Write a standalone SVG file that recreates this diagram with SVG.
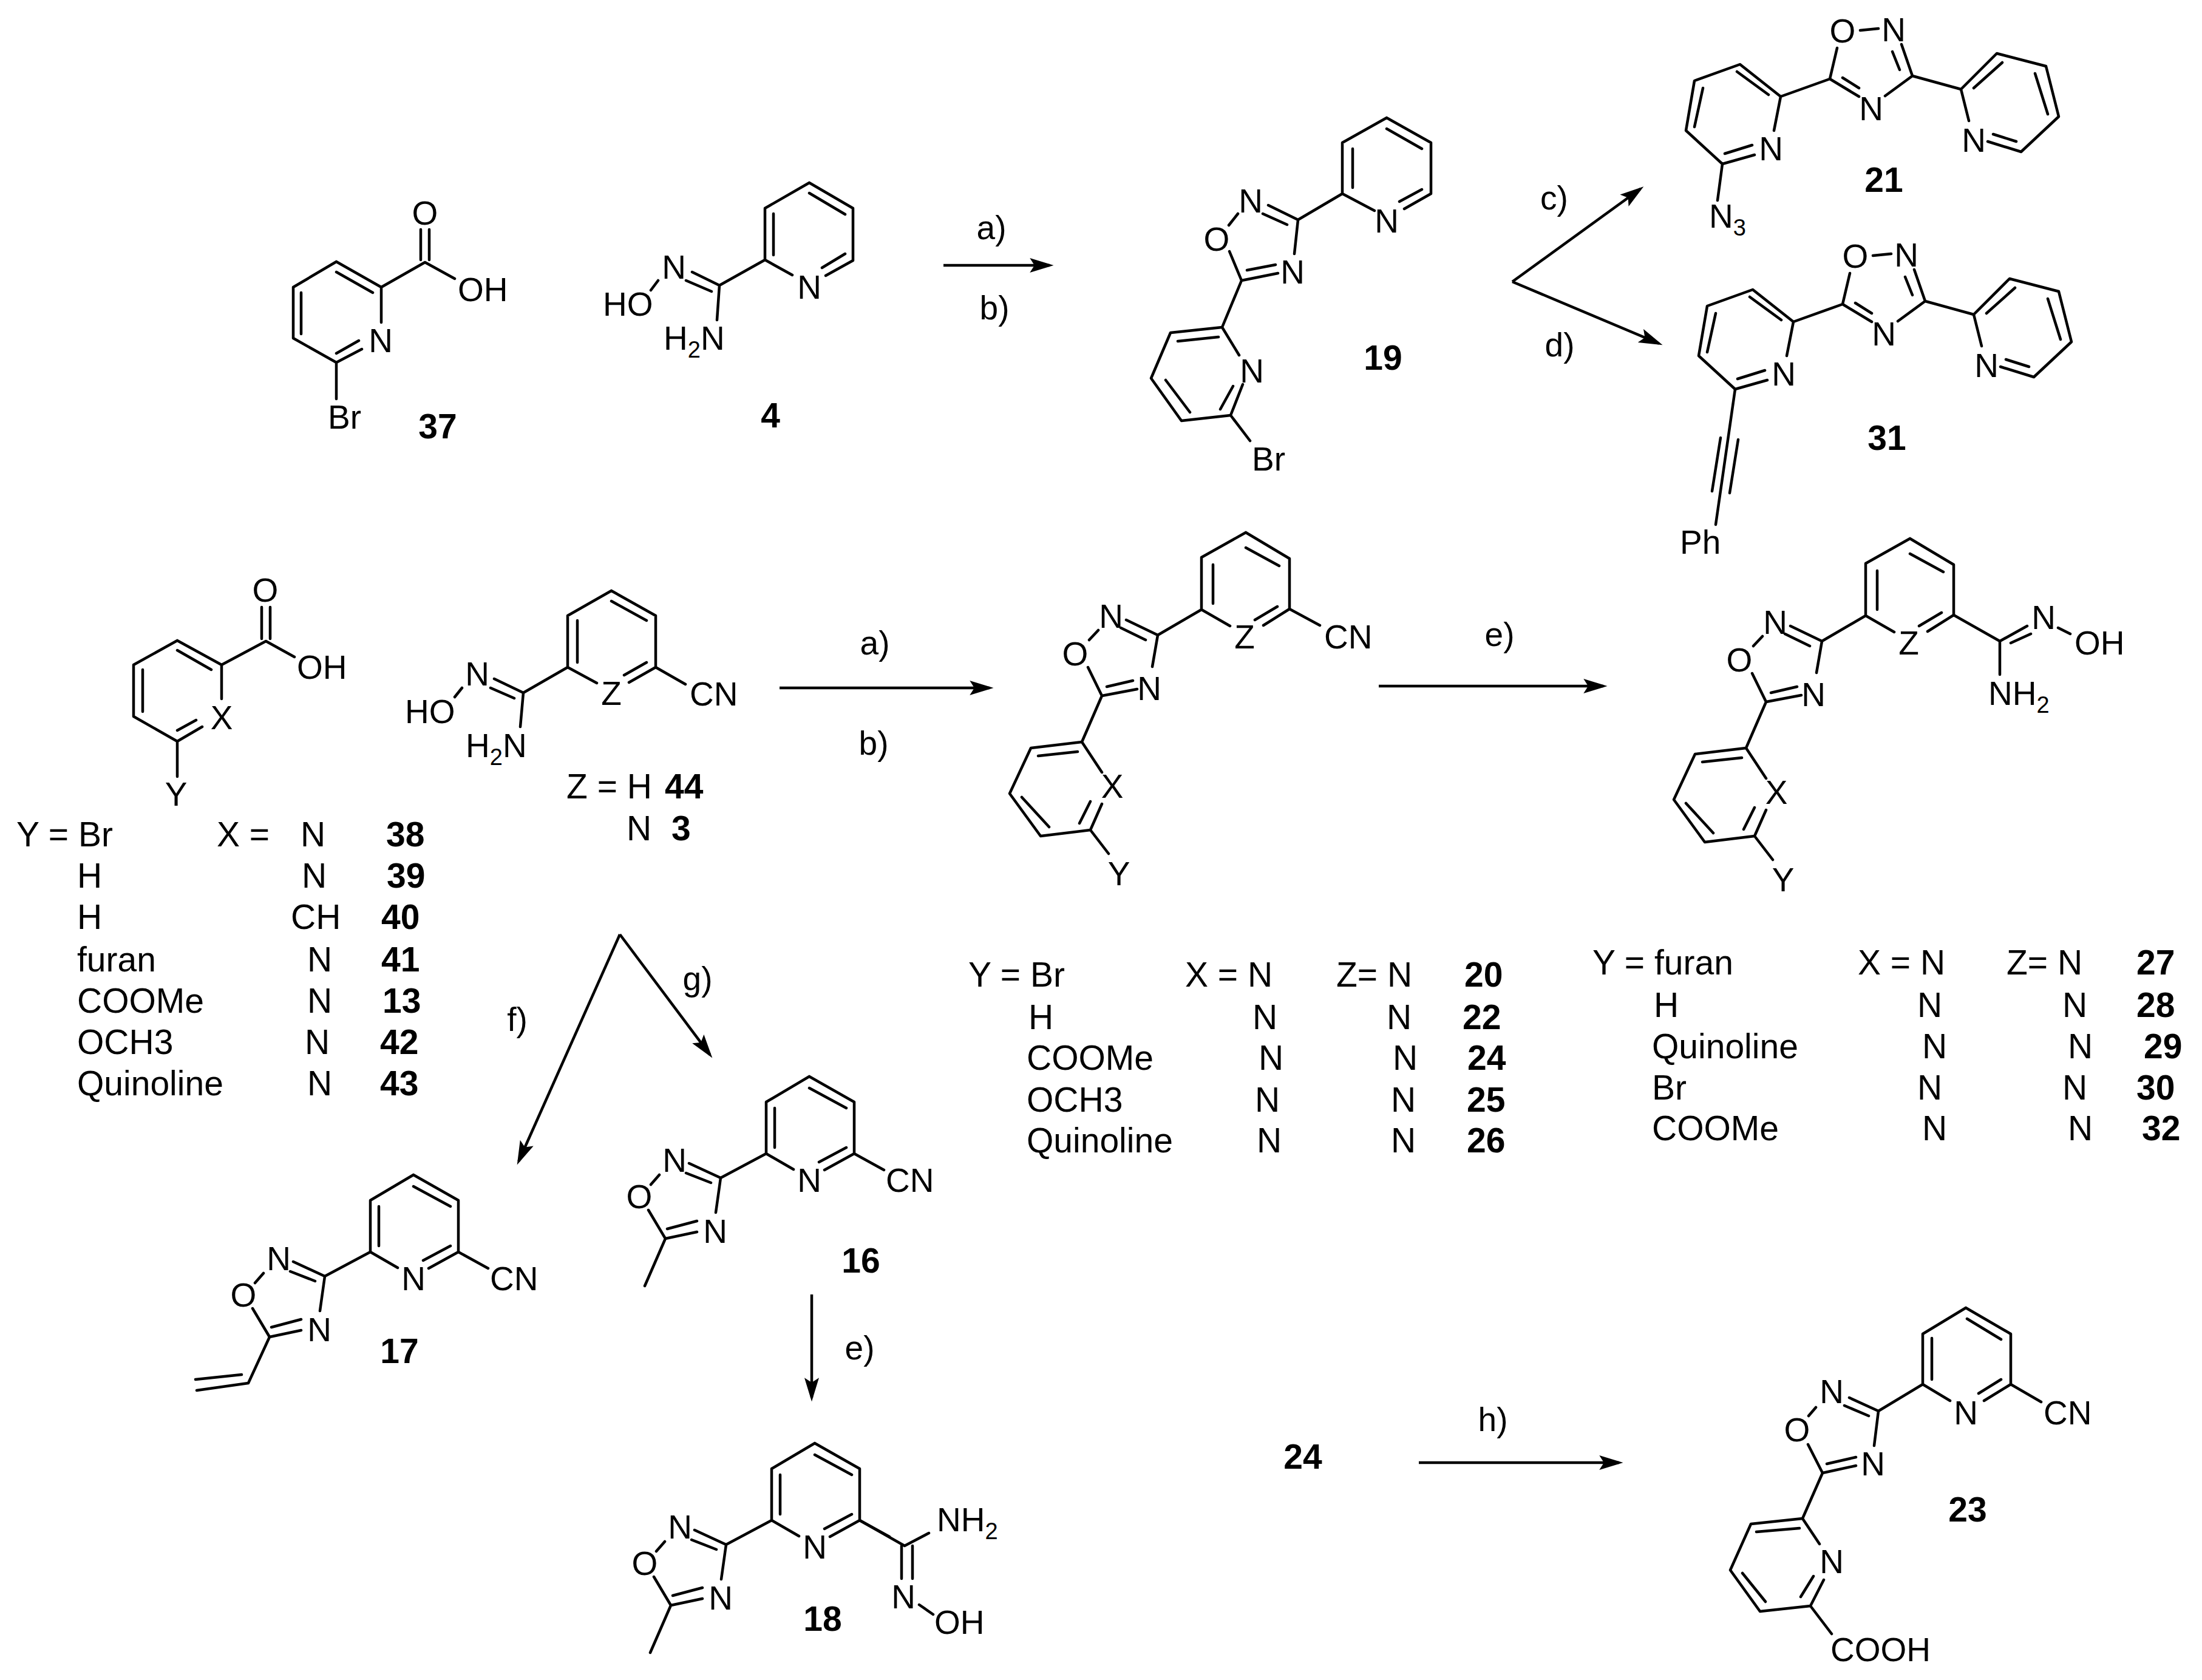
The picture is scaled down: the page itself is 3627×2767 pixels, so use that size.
<svg xmlns="http://www.w3.org/2000/svg" width="3627" height="2767" viewBox="0 0 3627 2767">
<style>
text{font-family:"Liberation Sans",Arial,sans-serif;fill:#000}
.a{font-size:55px;text-anchor:middle}
.s{font-size:55px}
.n{font-size:57px;font-weight:bold;text-anchor:middle}
.t{font-size:57px}
.nb{font-size:57px;font-weight:bold}
.bond{fill:none;stroke:#000;stroke-width:4.5;stroke-linecap:round;stroke-linejoin:round}
.arrow{fill:none;stroke:#000;stroke-width:4.5;marker-end:url(#head)}
</style>
<defs>
<marker id="head" markerUnits="userSpaceOnUse" markerWidth="40" markerHeight="24" viewBox="0 0 36 22" refX="30" refY="11" orient="auto">
<path d="M36,11 L0,0 L7,11 L0,22Z" fill="#000"/>
</marker>
</defs>
<rect width="3627" height="2767" fill="#fff"/>

<g id="connectors">
<path class="arrow" d="M1554,437H1729"/>
<path class="arrow" d="M2491,464L2702,311"/>
<path class="arrow" d="M2491,464L2732.5,565.7"/>
<path class="arrow" d="M1284,1133H1630"/>
<path class="arrow" d="M2271,1130H2641"/>
<path class="arrow" d="M1021,1539L854.4,1912.5"/>
<path class="arrow" d="M1021,1539L1169.4,1737.2"/>
<path class="arrow" d="M1337,2132V2302"/>
<path class="arrow" d="M2337,2409H2667"/>
<text class="a" x="1633" y="394">a)</text>
<text class="a" x="1638" y="526">b)</text>
<text class="a" x="2560" y="345">c)</text>
<text class="a" x="2569" y="587">d)</text>
<text class="a" x="1441" y="1078">a)</text>
<text class="a" x="1439" y="1243">b)</text>
<text class="a" x="2470" y="1064">e)</text>
<text class="a" x="852" y="1698">f)</text>
<text class="a" x="1149" y="1631">g)</text>
<text class="a" x="1416" y="2239">e)</text>
<text class="a" x="2459" y="2357">h)</text>
</g>

<g id="m37">
<path class="bond" d="M554,431L628,473L628,531M554,431L483,473V557L554,597L596,575M554,448L614,482M496,482V550M554,582L591,561M628,473L700,432L749,459M693,378V428M707,378V428M554,597V657"/>
<text class="a" x="627" y="580">N</text>
<text class="a" x="700" y="370">O</text>
<text class="s" x="754" y="496">OH</text>
<text class="s" x="540" y="706">Br</text>
<text class="n" x="721" y="722">37</text>
</g>

<g id="m4">
<path class="bond" d="M1333,301L1405,343V429L1360,454M1333,301L1260,343V428L1305,453M1333,318L1392,353M1274,352V420M1392,418L1354,441M1260,428L1185,470L1181,527M1140,448L1185,470M1130,462L1172,480M1084,462L1072,478"/>
<text class="a" x="1333" y="492">N</text>
<text class="a" x="1110" y="459">N</text>
<text class="s" x="1093" y="576">H<tspan font-size="38" dy="13">2</tspan><tspan dy="-13">N</tspan></text>
<text class="s" x="993" y="520">HO</text>
<text class="n" x="1269" y="704">4</text>
</g>

<g id="m19">
<path class="bond" d="M2284,194L2357,235V319L2313,344M2284,194L2211,235V319L2264,347M2284,212L2342,245M2228,245V309M2342,312L2305,332M2211,319L2138,362L2089,338M2120,370L2080,352M2039,352L2024,371M2025,414L2045,462L2105,450M2054,445L2101,436M2132,418L2138,362M2045,462L2013,539L1928,548L1896,623L1946,693L2027,684L2047,633M1940,562L2007,555M1920,626L1960,679M2010,674L2031,636M2013,539L2041,585M2027,684L2059,726"/>
<text class="a" x="2284" y="383">N</text>
<text class="a" x="2060" y="350">N</text>
<text class="a" x="2004" y="413">O</text>
<text class="a" x="2129" y="467">N</text>
<text class="a" x="2062" y="630">N</text>
<text class="s" x="2062" y="775">Br</text>
<text class="n" x="2278" y="609">19</text>
</g>

<g id="m21">
<path class="bond" d="M3064,50L3094,47M3026,79L3014,130L3062,159M3035,128L3062,145M3105,158L3150,125L3132,73M3129,115L3117,85M3150,125L3230,147L3289,88L3370,109L3391,192L3329,250L3274,233M3251,145L3298,103M3352,121L3373,188M3321,233L3283,221M3230,147L3243,199M3014,130L2933,159L2866,106L2791,133L2777,215L2837,270L2890,255M2913,156L2861,118M2805,145L2791,209M2841,253L2886,239M2933,159L2922,215M2837,270L2829,330"/>
<text class="a" x="3035" y="70">O</text>
<text class="a" x="3119" y="68">N</text>
<text class="a" x="3082" y="198">N</text>
<text class="a" x="3251" y="250">N</text>
<text class="a" x="2917" y="264">N</text>
<text class="s" x="2815" y="375">N<tspan font-size="38" dy="13">3</tspan></text>
<text class="n" x="3103" y="316">21</text>
</g>

<g id="m31">
<g transform="translate(21,371)">
<path class="bond" d="M3064,50L3094,47M3026,79L3014,130L3062,159M3035,128L3062,145M3105,158L3150,125L3132,73M3129,115L3117,85M3150,125L3230,147L3289,88L3370,109L3391,192L3329,250L3274,233M3251,145L3298,103M3352,121L3373,188M3321,233L3283,221M3230,147L3243,199M3014,130L2933,159L2866,106L2791,133L2777,215L2837,270L2890,255M2913,156L2861,118M2805,145L2791,209M2841,253L2886,239M2933,159L2922,215"/>
<text class="a" x="3035" y="70">O</text>
<text class="a" x="3119" y="68">N</text>
<text class="a" x="3082" y="198">N</text>
<text class="a" x="3251" y="250">N</text>
<text class="a" x="2917" y="264">N</text>
</g>
<path class="bond" d="M2858,641L2826,864M2834,721L2820,809M2863,724L2849,812"/>
<text class="s" x="2767" y="912">Ph</text>
<text class="n" x="3108" y="741">31</text>
</g>

<g id="m38acid">
<path class="bond" d="M292,1055L365,1095V1151M292,1055L220,1095V1180L292,1221L333,1197M292,1071L348,1103M235,1103V1172M292,1203L323,1186M365,1095L438,1056L485,1082M431,1000V1052M445,1000V1052M292,1221V1279"/>
<text class="a" x="365" y="1201">X</text>
<text class="a" x="437" y="991">O</text>
<text class="s" x="489" y="1118">OH</text>
<text class="a" x="290" y="1327">Y</text>
</g>

<g id="m3">
<path class="bond" d="M1007,973L1080,1014V1099L1036,1124M1007,973L935,1014V1099L983,1125M1007,990L1065,1022M951,1022V1091M1065,1091L1028,1112M1080,1099L1129,1127M935,1099L862,1141L814,1118M847,1150L808,1133M761,1133L749,1148M862,1141L857,1197"/>
<text class="a" x="1007" y="1161">Z</text>
<text class="s" x="1136" y="1162">CN</text>
<text class="a" x="786" y="1129">N</text>
<text class="s" x="667" y="1191">HO</text>
<text class="s" x="767" y="1247">H<tspan font-size="38" dy="13">2</tspan><tspan dy="-13">N</tspan></text>
<text class="t" x="933" y="1315">Z = H</text>
<text class="nb" x="1095" y="1315">44</text>
<text class="t" x="1032" y="1384">N</text>
<text class="nb" x="1106" y="1384">3</text>
</g>

<g id="table-left">
<text class="t" x="27" y="1394">Y = Br</text><text class="t" x="357" y="1394">X =</text><text class="t" x="495" y="1394">N</text><text class="nb" x="636" y="1394">38</text>
<text class="t" x="127" y="1462">H</text><text class="t" x="497" y="1462">N</text><text class="nb" x="637" y="1462">39</text>
<text class="t" x="127" y="1530">H</text><text class="t" x="479" y="1530">CH</text><text class="nb" x="628" y="1530">40</text>
<text class="t" x="127" y="1600">furan</text><text class="t" x="506" y="1600">N</text><text class="nb" x="628" y="1600">41</text>
<text class="t" x="127" y="1668">COOMe</text><text class="t" x="506" y="1668">N</text><text class="nb" x="630" y="1668">13</text>
<text class="t" x="127" y="1736">OCH3</text><text class="t" x="502" y="1736">N</text><text class="nb" x="626" y="1736">42</text>
<text class="t" x="127" y="1804">Quinoline</text><text class="t" x="506" y="1804">N</text><text class="nb" x="626" y="1804">43</text>
</g>

<g id="m20">
<path class="bond" d="M2052,877L2124,920V1003L2081,1030M2052,877L1979,918V1004L2026,1031M2052,902L2107,932M1998,930V994M2104,999L2067,1021M2124,1003L2174,1030M1979,1004L1907,1046L1855,1021M1887,1054L1846,1034M1809,1038L1794,1054M1792,1099L1815,1146L1873,1135M1823,1131L1866,1121M1898,1098L1907,1046M1815,1146L1782,1222L1698,1232L1663,1307L1714,1377L1796,1367L1815,1324M1710,1245L1775,1238M1683,1313L1728,1362M1778,1356L1796,1320M1782,1222L1815,1272M1796,1367L1826,1406"/>
<text class="a" x="2050" y="1068">Z</text>
<text class="s" x="2181" y="1068">CN</text>
<text class="a" x="1830" y="1034">N</text>
<text class="a" x="1771" y="1096">O</text>
<text class="a" x="1893" y="1153">N</text>
<text class="a" x="1832" y="1314">X</text>
<text class="a" x="1843" y="1458">Y</text>
</g>

<g id="m27">
<g transform="translate(1094,10)">
<path class="bond" d="M2052,877L2124,920V1003L2081,1030M2052,877L1979,918V1004L2026,1031M2052,902L2107,932M1998,930V994M2104,999L2067,1021M1979,1004L1907,1046L1855,1021M1887,1054L1846,1034M1809,1038L1794,1054M1792,1099L1815,1146L1873,1135M1823,1131L1866,1121M1898,1098L1907,1046M1815,1146L1782,1222L1698,1232L1663,1307L1714,1377L1796,1367L1815,1324M1710,1245L1775,1238M1683,1313L1728,1362M1778,1356L1796,1320M1782,1222L1815,1272M1796,1367L1826,1406"/>
<text class="a" x="2050" y="1068">Z</text>
<text class="a" x="1830" y="1034">N</text>
<text class="a" x="1771" y="1096">O</text>
<text class="a" x="1893" y="1153">N</text>
<text class="a" x="1832" y="1314">X</text>
<text class="a" x="1843" y="1458">Y</text>
</g>
<path class="bond" d="M3218,1013L3294,1056L3339,1031M3312,1059L3345,1044M3390,1034L3410,1044M3294,1056V1111"/>
<text class="a" x="3366" y="1036">N</text>
<text class="s" x="3417" y="1078">OH</text>
<text class="s" x="3275" y="1161">NH<tspan font-size="38" dy="13">2</tspan></text>
</g>

<g id="table-mid">
<text class="t" x="1595" y="1625">Y = Br</text><text class="t" x="1952" y="1625">X = N</text><text class="t" x="2201" y="1625">Z= N</text><text class="nb" x="2412" y="1625">20</text>
<text class="t" x="1694" y="1695">H</text><text class="t" x="2063" y="1695">N</text><text class="t" x="2284" y="1695">N</text><text class="nb" x="2409" y="1695">22</text>
<text class="t" x="1691" y="1762">COOMe</text><text class="t" x="2073" y="1762">N</text><text class="t" x="2294" y="1762">N</text><text class="nb" x="2417" y="1762">24</text>
<text class="t" x="1691" y="1831">OCH3</text><text class="t" x="2067" y="1831">N</text><text class="t" x="2291" y="1831">N</text><text class="nb" x="2416" y="1831">25</text>
<text class="t" x="1691" y="1898">Quinoline</text><text class="t" x="2070" y="1898">N</text><text class="t" x="2291" y="1898">N</text><text class="nb" x="2416" y="1898">26</text>
</g>

<g id="table-right">
<text class="t" x="2623" y="1605">Y = furan</text><text class="t" x="3060" y="1605">X = N</text><text class="t" x="3305" y="1605">Z= N</text><text class="nb" x="3519" y="1605">27</text>
<text class="t" x="2724" y="1675">H</text><text class="t" x="3158" y="1675">N</text><text class="t" x="3397" y="1675">N</text><text class="nb" x="3519" y="1675">28</text>
<text class="t" x="2721" y="1743">Quinoline</text><text class="t" x="3166" y="1743">N</text><text class="t" x="3406" y="1743">N</text><text class="nb" x="3531" y="1743">29</text>
<text class="t" x="2721" y="1811">Br</text><text class="t" x="3158" y="1811">N</text><text class="t" x="3397" y="1811">N</text><text class="nb" x="3519" y="1811">30</text>
<text class="t" x="2721" y="1878">COOMe</text><text class="t" x="3166" y="1878">N</text><text class="t" x="3406" y="1878">N</text><text class="nb" x="3528" y="1878">32</text>
</g>

<g id="m16">
<path class="bond" d="M1333,1773L1407,1815V1900L1358,1927M1333,1773L1262,1815V1900L1307,1926M1333,1792L1394,1825M1276,1825V1890M1394,1890L1349,1914M1407,1900L1456,1927M1262,1900L1187,1940L1135,1916M1171,1948L1130,1932M1086,1935L1072,1951M1068,1993L1096,2040L1148,2029M1099,2024L1148,2011M1179,1997L1187,1940M1096,2040L1062,2118"/>
<text class="a" x="1333" y="1963">N</text>
<text class="s" x="1459" y="1963">CN</text>
<text class="a" x="1111" y="1930">N</text>
<text class="a" x="1053" y="1990">O</text>
<text class="a" x="1178" y="2047">N</text>
<text class="n" x="1418" y="2096">16</text>
</g>

<g id="m17">
<g transform="translate(-652,162)">
<path class="bond" d="M1333,1773L1407,1815V1900L1358,1927M1333,1773L1262,1815V1900L1307,1926M1333,1792L1394,1825M1276,1825V1890M1394,1890L1349,1914M1407,1900L1456,1927M1262,1900L1187,1940L1135,1916M1171,1948L1130,1932M1086,1935L1072,1951M1068,1993L1096,2040L1148,2029M1099,2024L1148,2011M1179,1997L1187,1940"/>
<text class="a" x="1333" y="1963">N</text>
<text class="s" x="1459" y="1963">CN</text>
<text class="a" x="1111" y="1930">N</text>
<text class="a" x="1053" y="1990">O</text>
<text class="a" x="1178" y="2047">N</text>
</g>
<path class="bond" d="M444,2202L409,2278L324,2290M398,2264L322,2272"/>
<text class="n" x="658" y="2245">17</text>
</g>

<g id="m18">
<g transform="translate(9,604)">
<path class="bond" d="M1333,1773L1407,1815V1900L1358,1927M1333,1773L1262,1815V1900L1307,1926M1333,1792L1394,1825M1276,1825V1890M1394,1890L1349,1914M1407,1900L1456,1927M1262,1900L1187,1940L1135,1916M1171,1948L1130,1932M1086,1935L1072,1951M1068,1993L1096,2040L1148,2029M1099,2024L1148,2011M1179,1997L1187,1940M1096,2040L1062,2118"/>
<text class="a" x="1333" y="1963">N</text>
<text class="a" x="1111" y="1930">N</text>
<text class="a" x="1053" y="1990">O</text>
<text class="a" x="1178" y="2047">N</text>
</g>
<path class="bond" d="M1416,2504L1490,2546L1530,2525M1485,2546V2600M1503,2546V2600M1514,2643L1537,2659"/>
<text class="s" x="1543" y="2522">NH<tspan font-size="38" dy="13">2</tspan></text>
<text class="a" x="1488" y="2649">N</text>
<text class="s" x="1539" y="2691">OH</text>
<text class="n" x="1355" y="2686">18</text>
</g>

<g id="m23">
<path class="bond" d="M3238,2154L3312,2197V2280L3268,2307M3238,2154L3167,2197V2280L3212,2307M3240,2172L3296,2206M3182,2204V2272M3296,2272L3259,2295M3312,2280L3362,2309M3167,2280L3094,2324L3046,2302M3078,2332L3038,2315M2991,2318L2979,2332M2978,2379L3002,2426L3057,2414M3009,2411L3057,2400M3087,2381L3094,2324M3002,2426L2969,2501L2884,2510L2850,2586L2899,2654L2982,2645L3004,2602M2893,2523L2964,2517M2870,2591L2908,2638M2966,2630L2987,2596M2969,2501L2997,2543M2982,2645L3017,2691"/>
<text class="a" x="3238" y="2346">N</text>
<text class="s" x="3366" y="2346">CN</text>
<text class="a" x="3017" y="2311">N</text>
<text class="a" x="2960" y="2374">O</text>
<text class="a" x="3085" y="2430">N</text>
<text class="a" x="3017" y="2591">N</text>
<text class="s" x="3015" y="2736">COOH</text>
<text class="n" x="3241" y="2506">23</text>
</g>

<g id="label24">
<text class="n" x="2146" y="2419">24</text>
</g>
</svg>
